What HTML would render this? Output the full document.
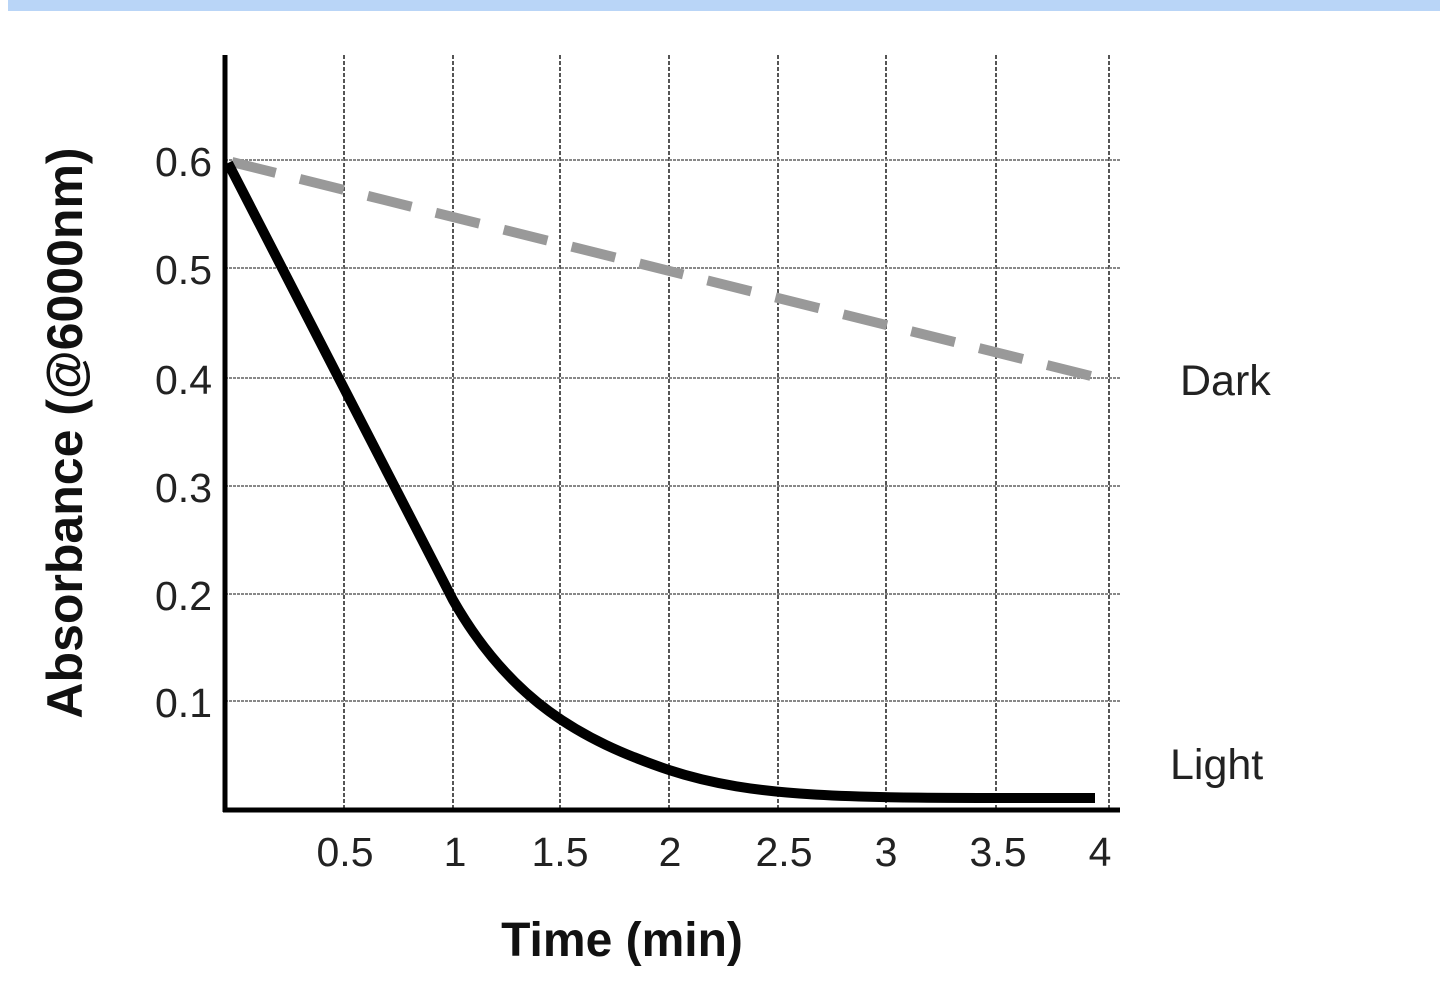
<!DOCTYPE html>
<html><head><meta charset="utf-8"><style>
body{margin:0;background:#fff;width:1440px;height:984px;overflow:hidden}
svg{display:block}
</style></head><body>
<svg width="1440" height="984" viewBox="0 0 1440 984" font-family="Liberation Sans, sans-serif">
<rect x="8" y="0" width="1432" height="11" fill="#b9d5f7"/>
<g stroke="#555" stroke-width="2" stroke-dasharray="4,2">
<line x1="344" y1="55" x2="344" y2="810"/><line x1="453" y1="55" x2="453" y2="810"/>
<line x1="560" y1="55" x2="560" y2="810"/><line x1="669" y1="55" x2="669" y2="810"/>
<line x1="778" y1="55" x2="778" y2="810"/><line x1="886" y1="55" x2="886" y2="810"/>
<line x1="996" y1="55" x2="996" y2="810"/><line x1="1109" y1="55" x2="1109" y2="810"/>
</g>
<g stroke="#888" stroke-width="2" stroke-dasharray="3,1">
<line x1="225" y1="160" x2="1120" y2="160"/><line x1="225" y1="268" x2="1120" y2="268"/>
<line x1="225" y1="378" x2="1120" y2="378"/><line x1="225" y1="486" x2="1120" y2="486"/>
<line x1="225" y1="594" x2="1120" y2="594"/><line x1="225" y1="701" x2="1120" y2="701"/>
</g>
<line x1="225" y1="55" x2="225" y2="812" stroke="#000" stroke-width="5"/>
<line x1="223" y1="810" x2="1120" y2="810" stroke="#000" stroke-width="5"/>
<line x1="232" y1="162" x2="1107" y2="380" stroke="#999" stroke-width="10" stroke-dasharray="45,25"/>
<path d="M228,163 L453,600 C510,700 580,740 669,770 C760,800 860,798 1095,798" fill="none" stroke="#000" stroke-width="10"/>
<g font-size="41" fill="#222" text-anchor="end">
<text x="212" y="176">0.6</text><text x="212" y="284">0.5</text><text x="212" y="394">0.4</text>
<text x="212" y="502">0.3</text><text x="212" y="610">0.2</text><text x="212" y="717">0.1</text>
</g>
<g font-size="41" fill="#222" text-anchor="middle">
<text x="345" y="866">0.5</text><text x="455" y="866">1</text><text x="560" y="866">1.5</text>
<text x="670" y="866">2</text><text x="784" y="866">2.5</text><text x="886" y="866">3</text>
<text x="998" y="866">3.5</text><text x="1100" y="866">4</text>
</g>
<text x="622" y="956" font-size="48" font-weight="bold" text-anchor="middle" fill="#111">Time (min)</text>
<text transform="translate(82,433) rotate(-90)" font-size="50" font-weight="bold" text-anchor="middle" fill="#111">Absorbance (@6000nm)</text>
<text x="1180" y="395" font-size="43" fill="#222">Dark</text>
<text x="1170" y="779" font-size="43" fill="#222">Light</text>
</svg>
</body></html>
